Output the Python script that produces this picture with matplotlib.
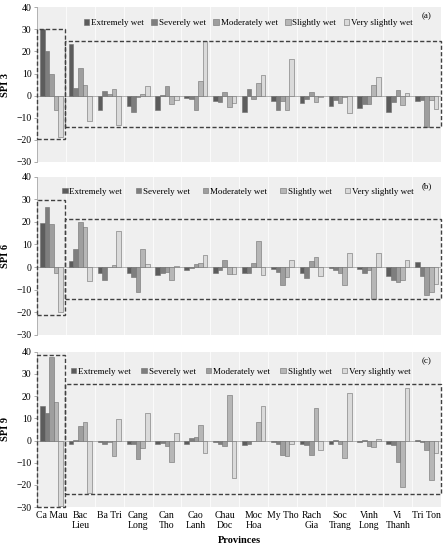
import matplotlib
matplotlib.use("Agg")
import matplotlib.pyplot as plt
import numpy as np
from matplotlib.patches import Rectangle

plt.rcParams["font.family"] = ["Liberation Serif", "DejaVu Serif"]

provinces = ["Ca Mau", "Bac\nLieu", "Ba Tri", "Cang\nLong", "Can\nTho", "Cao\nLanh",
             "Chau\nDoc", "Moc\nHoa", "My Tho", "Rach\nGia", "Soc\nTrang", "Vinh\nLong",
             "Vi\nThanh", "Tri Ton"]
classes = ["Extremely wet", "Severely wet", "Moderately wet", "Slightly wet",
           "Very slightly wet"]
colors = ["#5c5c5c", "#7e7e7e", "#9e9e9e", "#b6b6b6", "#dadada"]

# rows = classes, columns = provinces
spi3 = [
    [30, 23.3, -6.6, -4.5, -6.5, -1.2, -2.5, -7.5, -2.5, -3.4, -4.5, -5.5, -7.6, -2.5],
    [20.3, 3.3, 2.3, -7.6, 0.3, -1.6, -2.8, 3.2, -6.5, -1.7, -2.2, -3.7, -2.7, -2.0],
    [9.6, 12.6, 0.6, -0.5, 4.5, -6.5, 1.6, -1.5, -2.5, 1.8, -3.4, -3.6, 2.6, -14.0],
    [-6.3, 5.0, 2.8, 0.9, -4.0, 6.8, -5.2, 5.5, -6.3, -2.8, -0.4, 4.8, -4.3, -2.2],
    [-18.9, -11.7, -13.5, 4.4, -1.8, 24.5, -3.5, 9.5, 16.5, -0.4, -7.8, 8.2, 1.3, -6.0],
]
spi6 = [
    [19.5, 2.5, -2.5, -2.5, -3.5, -1.5, -2.5, -2.5, -1.0, -2.5, -0.5, -1.0, -3.8, 2.2],
    [26.5, 7.8, -5.5, -4.5, -2.5, -0.5, -1.5, -2.5, -2.0, -5.0, -1.5, -2.5, -5.8, -4.0],
    [19.0, 20.0, 0.1, -11.0, -2.0, 1.2, 3.0, 1.8, -8.0, 2.8, -2.8, -1.5, -6.5, -12.5],
    [-2.5, 17.5, 0.8, 7.8, -5.5, 1.8, -3.0, 11.5, -4.5, 4.5, -8.0, -14.0, -5.9, -11.0],
    [-20.0, -6.0, 16.0, 1.3, 0.3, 5.2, -3.2, -3.4, 3.0, -4.0, 6.0, 6.0, 3.0, -7.4],
]
spi9 = [
    [15.5, -1.5, -0.5, -1.5, -1.5, -1.5, -0.5, -1.8, -0.5, -1.5, -1.5, -0.5, -1.5, 0.3],
    [12.3, 0.3, -1.5, -1.5, -1.0, 1.2, -1.5, -1.5, -1.5, -1.8, 0.3, 0.3, -1.8, -0.5],
    [37.5, 6.5, -0.5, -8.5, -2.5, 1.5, -2.5, -0.3, -6.5, -6.5, -1.5, -2.5, -9.5, -4.5],
    [17.5, 8.2, -6.8, -3.5, -9.8, 7.2, 20.3, 8.3, -6.8, 14.5, -7.8, -2.8, -21.0, -18.0],
    [-29.5, -23.5, 9.5, 12.5, 3.5, -5.5, -16.7, 15.5, -1.5, -4.5, 21.5, 0.5, 23.5, -5.5],
]

# (ylabel, letter, data, dashed boxes (top, bottom), legend (x0, width, y))
panels = [
    ("SPI 3", "(a)", spi3, [(30, -19.5), (24.5, -14.1)], (0.115, 0.815, 0.895)),
    ("SPI 6", "(b)", spi6, [(29.5, -21.3), (21.3, -14.3)], (0.062, 0.87, 0.905)),
    ("SPI 9", "(c)", spi9, [(38.5, -29.8), (25.3, -24.1)], (0.084, 0.84, 0.872)),
]
axes_y = [(0.987, 0.7055), (0.679, 0.391), (0.3605, 0.078)]


def draw_panel(ax, ylabel, letter, values, boxes, leg):
    x = np.arange(len(provinces))
    w = 0.16
    ax.set_facecolor("#efefef")
    for i, (name, vals) in enumerate(zip(classes, values)):
        ax.bar(x + (i - 2) * w, vals, w, color=colors[i], edgecolor="#6e6e6e",
               linewidth=0.4, label=name, zorder=3)
    ax.axhline(0, color="#a8a8a8", lw=0.6, zorder=2)
    for b in np.arange(0.5, len(provinces) - 0.5, 1):
        ax.axvline(b, color="#fafafa", lw=0.8, zorder=1)
    ax.set_xlim(-0.5, len(provinces) - 0.5)
    ax.set_ylim(-30, 40)
    ax.set_yticks(range(-30, 41, 10))
    ax.set_yticklabels([str(t).replace("-", "\u2212") for t in range(-30, 41, 10)])
    ax.tick_params(axis="y", labelsize=7, length=2, width=0.5, color="#888888", pad=2)
    ax.tick_params(axis="x", length=0, labelsize=7, pad=3)
    for s in ["top", "right", "bottom"]:
        ax.spines[s].set_visible(False)
    ax.spines["left"].set_color("#999999")
    ax.spines["left"].set_linewidth(0.5)
    ax.set_ylabel(ylabel, fontsize=7.5, fontweight="bold")
    ax.yaxis.set_label_coords(-0.067, 0.5)
    (t1, b1), (t2, b2) = boxes
    split = 0.47
    dash = (0, (3, 1.6))
    ax.add_patch(Rectangle((-0.5, b1), split + 0.5, t1 - b1, fill=False, ls=dash,
                           lw=1.0, ec="#404040", zorder=4, clip_on=False))
    ax.add_patch(Rectangle((split, b2), len(provinces) - 0.5 - split, t2 - b2,
                           fill=False, ls=dash, lw=1.0, ec="#404040", zorder=4,
                           clip_on=False))
    x0, width, ly = leg
    ax.legend(loc="center", bbox_to_anchor=(x0, ly - 0.03, width, 0.06), mode="expand",
              ncol=5, frameon=False, fontsize=6.5, handlelength=0.6, handleheight=0.6,
              handletextpad=0.2, borderaxespad=0, borderpad=0)
    ax.text(0.965, 0.94, letter, transform=ax.transAxes, fontsize=6.5,
            ha="center", va="center")


fig = plt.figure(figsize=(4.47, 5.5), dpi=100)
axes = []
for (top, bottom), (ylabel, letter, values, boxes, leg) in zip(axes_y, panels):
    ax = fig.add_axes([0.083, bottom, 0.904, top - bottom])
    draw_panel(ax, ylabel, letter, values, boxes, leg)
    axes.append(ax)

for ax in axes[:-1]:
    ax.set_xticks(np.arange(len(provinces)))
    ax.set_xticklabels([])
axes[-1].set_xticks(np.arange(len(provinces)))
axes[-1].set_xticklabels(provinces, fontsize=7, linespacing=1.1, va="top")
axes[-1].set_xlabel("Provinces", fontsize=7.5, fontweight="bold", labelpad=4)

fig.savefig("out.png", dpi=100)
